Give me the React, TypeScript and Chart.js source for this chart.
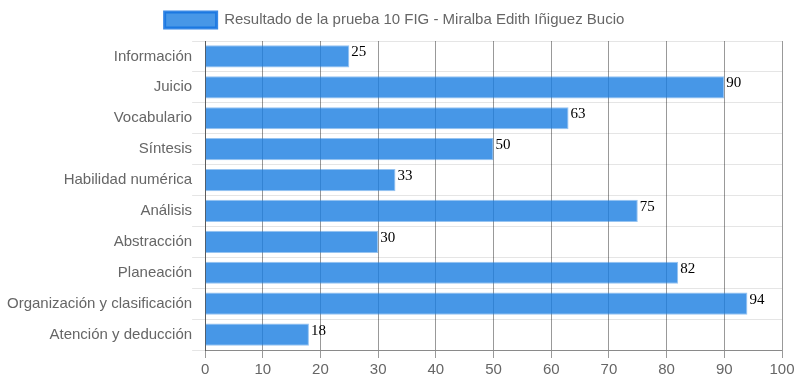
import React, { useEffect, useRef } from "react";
import { Chart, registerables } from "chart.js";

Chart.register(...registerables);

const categories = [
  "Información",
  "Juicio",
  "Vocabulario",
  "Síntesis",
  "Habilidad numérica",
  "Análisis",
  "Abstracción",
  "Planeación",
  "Organización y clasificación",
  "Atención y deducción",
];
const values = [25, 90, 63, 50, 33, 75, 30, 82, 94, 18];
const seriesLabel = "Resultado de la prueba 10 FIG - Miralba Edith Iñiguez Bucio";

const valueLabelPlugin = {
  id: "valueLabels",
  afterDatasetsDraw(chart: any) {
    const ctx = chart.ctx;
    ctx.save();
    ctx.font = '15px "Liberation Serif", serif';
    ctx.fillStyle = "#000";
    ctx.textAlign = "left";
    ctx.textBaseline = "alphabetic";
    chart.data.datasets.forEach((ds: any, i: number) => {
      const meta = chart.getDatasetMeta(i);
      meta.data.forEach((bar: any, j: number) => {
        ctx.fillText(String(ds.data[j]), bar.x + 2, bar.y);
      });
    });
    ctx.restore();
  },
};

const legendSpacer = {
  id: "legendSpacer",
  beforeInit(chart: any) {
    const legend = chart.legend;
    if (legend && !legend.__patched) {
      const orig = legend.fit;
      legend.fit = function () {
        orig.call(this);
        this.height += 3;
      };
      legend.__patched = true;
    }
  },
};

const FONT = '"Liberation Sans", Arial, sans-serif';

export default function App() {
  const ref = useRef<HTMLCanvasElement>(null);
  useEffect(() => {
    const chart = new Chart(ref.current!, {
      type: "bar",
      data: {
        labels: categories,
        datasets: [
          {
            label: seriesLabel,
            data: values,
            backgroundColor: "rgba(25,125,225,0.8)",
            borderColor: "rgba(25,125,225,0.45)",
            borderWidth: 1,
          },
        ],
      },
      options: {
        indexAxis: "y",
        animation: false,
        responsive: true,
        maintainAspectRatio: false,
        layout: { padding: { left: 7, right: 16, top: 2, bottom: 3 } },
        plugins: {
          tooltip: { enabled: false },
          legend: {
            position: "top",
            labels: {
              boxWidth: 52,
              boxHeight: 16,
              color: "#666",
              font: { family: FONT, size: 15 },
              generateLabels: () => [
                {
                  text: seriesLabel,
                  fillStyle: "rgba(25,125,225,0.8)",
                  strokeStyle: "rgba(20,115,225,0.85)",
                  lineWidth: 3,
                  hidden: false,
                  datasetIndex: 0,
                  fontColor: "#666",
                },
              ],
            },
          },
        },
        scales: {
          x: {
            min: 0,
            max: 100,
            ticks: {
              stepSize: 10,
              color: "#666",
              font: { family: FONT, size: 15 },
            },
            grid: { color: "rgba(0,0,0,0.4)", tickLength: 8 },
            border: { color: "rgba(0,0,0,0.4)" },
          },
          y: {
            ticks: {
              color: "#666",
              padding: 0,
              font: { family: FONT, size: 15 },
            },
            grid: { color: "rgba(0,0,0,0.1)", tickLength: 13 },
            border: { color: "rgba(0,0,0,0.4)" },
          },
        },
      },
      plugins: [valueLabelPlugin, legendSpacer],
    });
    return () => chart.destroy();
  }, []);
  return (
    <div style={{ position: "fixed", left: 0, top: 0, width: 798, height: 385 }}>
      <canvas ref={ref} />
    </div>
  );
}
